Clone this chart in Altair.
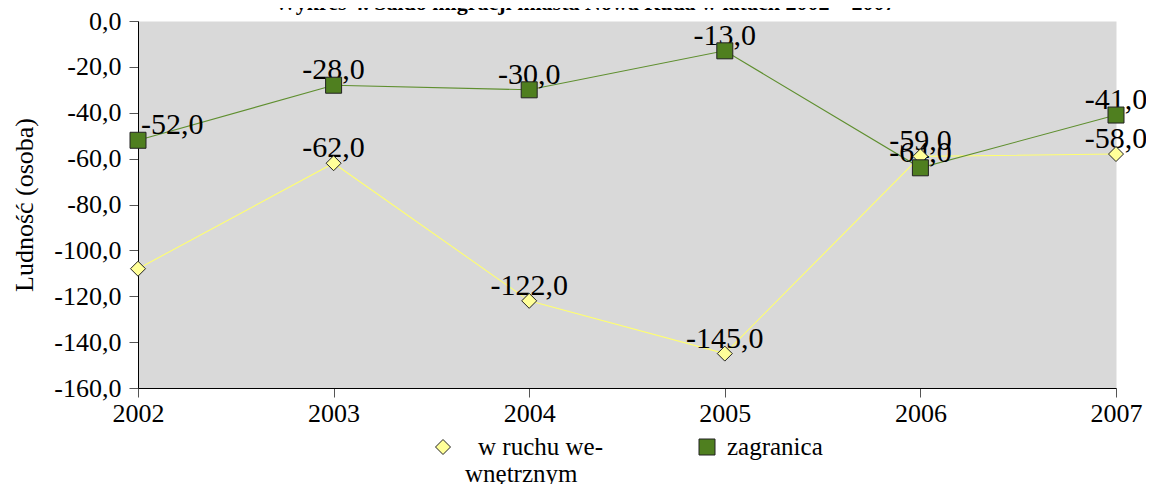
import altair as alt
import pandas as pd

years = ["2002", "2003", "2004", "2005", "2006", "2007"]
internal = [-108, -62, -122, -145, -59, -58]
foreign = [-52, -28, -30, -13, -64, -41]
series_names = ["w ruchu wewnętrznym", "zagranica"]
legend_labels = ["w ruchu we-", "zagranica"]
y_ticks = [0, -20, -40, -60, -80, -100, -120, -140, -160]
title_text = "Wykres 4. Saldo migracji miasta Nowa Ruda w latach 2002 – 2007"
y_title = "Ludność (osoba)"
legend_line2 = "wnętrznym"

fills = ["#ffff99", "#4f7f1f"]
line_colors = ["#ffff70", "#5f8f2f"]
shapes = ["diamond", "square"]
sizes = [225, 256]

rows = []
for i, yr in enumerate(years):
    rows.append({"year": yr, "series": series_names[0], "value": internal[i], "ord": 0})
for i, yr in enumerate(years):
    rows.append({"year": yr, "series": series_names[1], "value": foreign[i], "ord": 1})
df = pd.DataFrame(rows)

FONT = "Liberation Serif"
lab_expr = "replace((datum.value < 0 ? '-' : '') + format(abs(datum.value), '.1f'), '.', ',')"

x = alt.X("year:O", scale=alt.Scale(type="point", padding=0),
          axis=alt.Axis(title=None, labelAngle=0, labelFont=FONT, labelFontSize=26,
                        labelColor="black", tickColor="#555", tickSize=9, domainColor="black",
                        labelPadding=3))
y = alt.Y("value:Q", scale=alt.Scale(domain=[-160, 0], nice=False, zero=False),
          axis=alt.Axis(values=y_ticks, labelExpr=lab_expr, title=y_title, titleFont=FONT,
                        titleFontSize=26, titleFontWeight="normal", titleColor="black",
                        titlePadding=16, labelFont=FONT, labelFontSize=26, labelColor="black",
                        tickColor="#555", tickSize=9, domainColor="black", grid=False,
                        labelPadding=8))

base = alt.Chart(df)

lines = base.mark_line(strokeWidth=1.1).encode(
    x=x, y=y,
    stroke=alt.Stroke("series:N", scale=alt.Scale(domain=series_names, range=line_colors), legend=None),
)

points = base.mark_point(filled=True, stroke="#222", strokeWidth=1, opacity=1).encode(
    x=x, y=y,
    fill=alt.Fill("series:N", scale=alt.Scale(domain=series_names, range=fills), legend=None),
    shape=alt.Shape("series:N", scale=alt.Scale(domain=series_names, range=shapes), legend=None),
    size=alt.Size("series:N", scale=alt.Scale(domain=series_names, range=sizes), legend=None),
    order=alt.Order("ord:Q"),
)

labels = base.transform_filter(
    "!(datum.year == '2002')"
).transform_calculate(
    lab=lab_expr
).mark_text(font=FONT, fontSize=30, color="black", baseline="alphabetic", align="center", dy=-6).encode(
    x=x, y=y, text="lab:N"
)

label52 = base.transform_filter(
    "datum.year == '2002' && datum.series == 'zagranica'"
).transform_calculate(
    lab=lab_expr
).mark_text(font=FONT, fontSize=30, color="black", baseline="alphabetic", align="left", dx=3, dy=-6).encode(
    x=x, y=y, text="lab:N"
)

title = alt.Chart(pd.DataFrame({"t": [title_text]})).mark_text(
    font=FONT, fontSize=22, fontWeight="bold", color="black", align="center", baseline="alphabetic"
).encode(x=alt.value(447), y=alt.value(-11), text="t:N")

# legend (drawn as its own small layer)
leg_sym = []
for i, name in enumerate(series_names):
    leg_sym.append(
        alt.Chart(pd.DataFrame({"s": [name]})).mark_point(
            filled=True, stroke="#222", strokeWidth=1, opacity=1, fill=fills[i], shape=shapes[i], size=sizes[i]
        ).encode(x=alt.value([305, 569][i]), y=alt.value(426))
    )
leg_txt = []
for i, lab in enumerate(legend_labels):
    leg_txt.append(
        alt.Chart(pd.DataFrame({"t": [lab]})).mark_text(
            font=FONT, fontSize=25, color="black", align="left", baseline="middle"
        ).encode(x=alt.value([340, 589][i]), y=alt.value(426), text="t:N")
    )
legend2 = alt.Chart(pd.DataFrame({"t": [legend_line2]})).mark_text(
    font=FONT, fontSize=25, color="black", align="left", baseline="middle"
).encode(x=alt.value(327), y=alt.value(453), text="t:N")

chart = alt.layer(lines, labels, label52, points, title, *leg_sym, *leg_txt, legend2).properties(
    width=978, height=367,
    autosize=alt.AutoSizeParams(type="none"),
    padding={"left": 130, "top": 13, "right": 30, "bottom": 96},
).configure_view(fill="#d9d9d9", strokeOpacity=0)

chart.save("out.html", embed_options={"renderer": "svg", "actions": False})
